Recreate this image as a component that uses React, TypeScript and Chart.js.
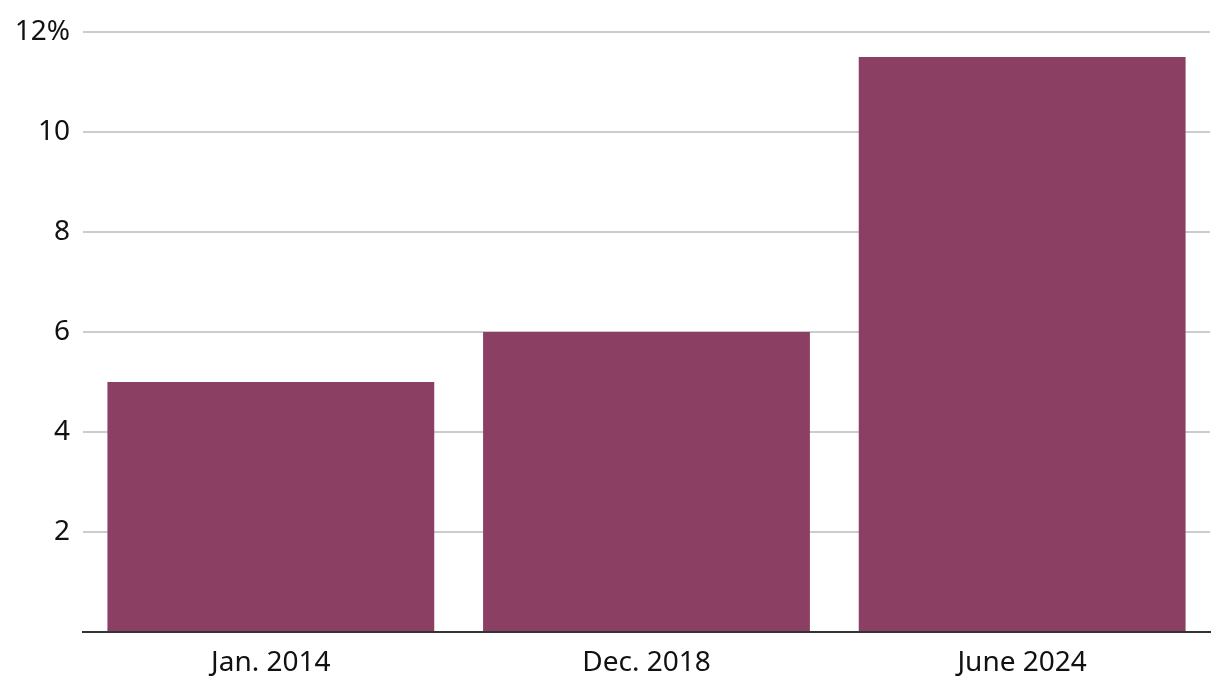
import React, { useEffect, useRef } from "react";
import { Chart, registerables } from "chart.js";

Chart.register(...registerables);

const categories = ["Jan. 2014", "Dec. 2018", "June 2024"];
const values = [5.0, 6.0, 11.5];
const yTicks = [0, 2, 4, 6, 8, 10, 12];

const FONT = "'Noto Sans', sans-serif";

export default function App() {
  const ref = useRef<HTMLCanvasElement | null>(null);
  useEffect(() => {
    if (!ref.current) return;
    const chart = new Chart(ref.current, {
      type: "bar",
      data: {
        labels: categories,
        datasets: [
          {
            data: values,
            backgroundColor: "#8B3F62",
            borderWidth: 0,
            categoryPercentage: 0.87,
            barPercentage: 1,
          },
        ],
      },
      options: {
        animation: false,
        responsive: true,
        maintainAspectRatio: false,
        layout: { padding: { top: 32, right: 10, left: 0, bottom: 0 } },
        plugins: { legend: { display: false }, tooltip: { enabled: false } },
        scales: {
          x: {
            grid: { display: false },
            border: { display: true, color: "#333333", width: 2 },
            ticks: {
              color: "#111111",
              font: { family: FONT, size: 28 },
              padding: 6,
            },
            afterFit: (s: any) => {
              s.height = 60;
            },
          },
          y: {
            min: 0,
            max: 12,
            afterBuildTicks: (s: any) => {
              s.ticks = yTicks.map((v) => ({ value: v }));
            },
            grid: { color: "#cccccc", lineWidth: 2, drawTicks: false },
            border: { display: false },
            ticks: {
              color: "#111111",
              font: { family: FONT, size: 28 },
              padding: 13,
              callback: (v: any) => (v === 0 ? "" : v === 12 ? "12%" : String(v)),
            },
            afterFit: (s: any) => {
              s.width = 83;
            },
          },
        },
      },
    });
    return () => chart.destroy();
  }, []);
  return (
    <div style={{ position: "fixed", left: 0, top: 0, width: 1220, height: 692, background: "#fff" }}>
      <canvas ref={ref} />
    </div>
  );
}
